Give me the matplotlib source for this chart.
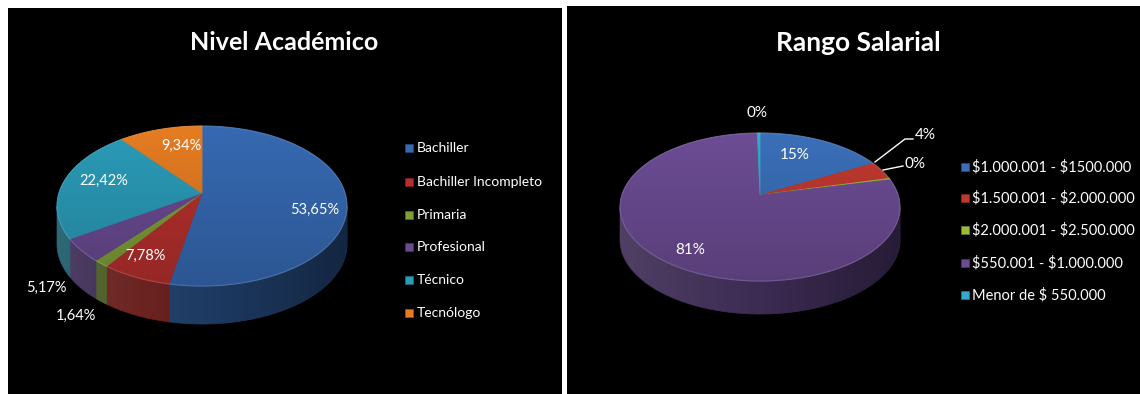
import numpy as np
import matplotlib
matplotlib.use("Agg")
import matplotlib.pyplot as plt
from matplotlib.patches import Polygon, Rectangle
from matplotlib.colors import to_rgb

plt.rcParams['font.family'] = ['Lato', 'DejaVu Sans']

# ---------------- data ----------------
acad_title = "Nivel Académico"
acad_cats = ["Bachiller", "Bachiller Incompleto", "Primaria", "Profesional", "Técnico", "Tecnólogo"]
acad_vals = [53.65, 7.78, 1.64, 5.17, 22.42, 9.34]
acad_colors = ["#3669B2", "#B5302D", "#7E9E38", "#6A4A92", "#2B9BB8", "#E57C22"]

sal_title = "Rango Salarial"
sal_cats = ["$1.000.001 - $1500.000", "$1.500.001 - $2.000.000", "$2.000.001 - $2.500.000",
            "$550.001 - $1.000.000", "Menor de $ 550.000"]
sal_vals = [15.0, 3.7, 0.3, 80.7, 0.3]
sal_colors = ["#3A6FB8", "#C0392F", "#9BBB3A", "#6C4C94", "#36AACB"]

acad_label_txt = [("%.2f%%" % v).replace(".", ",") for v in acad_vals]
sal_label_txt = ["%.0f%%" % v for v in sal_vals]

# ---------------- layout ----------------
W, H = 1140, 394
fig = plt.figure(figsize=(W / 100, H / 100), dpi=100, facecolor="white")
ax = fig.add_axes([0, 0, 1, 1])
ax.set_xlim(0, W)
ax.set_ylim(H, 0)
ax.axis("off")

ax.add_patch(Rectangle((8, 8), 554, 386, facecolor="black", edgecolor="none"))
ax.add_patch(Rectangle((567, 6), 573, 388, facecolor="black", edgecolor="none"))


def shade(c, f):
    r, g, b = to_rgb(c)
    return (min(r * f, 1), min(g * f, 1), min(b * f, 1))


def pie3d(vals, colors, cx, cy, rx, ry, depth, apx, apy, start=90.0):
    total = float(sum(vals))
    t = start
    spans = []
    for v in vals:
        a = 360.0 * v / total
        spans.append((t, t - a))
        t -= a

    def rim(tt, dy=0.0):
        r = np.radians(tt)
        return cx + rx * np.cos(r), cy - ry * np.sin(r) + dy

    # side walls: one polygon per wedge, restricted to the front half
    for (t0, t1), col in zip(spans, colors):
        ts = np.linspace(t0, t1, max(4, int(abs(t0 - t1) * 2)))
        tsn = ((ts + 180) % 360) - 180
        mask = tsn <= 0.0
        if mask.sum() < 2:
            continue
        seg = ts[mask]
        top = [rim(tt) for tt in seg]
        bot = [rim(tt, depth) for tt in seg[::-1]]
        sc = shade(col, 0.56)
        ax.add_patch(Polygon(top + bot, closed=True, facecolor=sc, edgecolor=sc, lw=0.6, zorder=1))

    # horizontal lighting gradient on the side band
    tb = np.linspace(180, 360, 181)
    band = Polygon([rim(tt) for tt in tb] + [rim(tt, depth) for tt in tb[::-1]],
                   closed=True, facecolor="none", edgecolor="none")
    ax.add_patch(band)
    xs = np.linspace(-1, 1, 200)
    rgba = np.zeros((1, 200, 4))
    rgba[..., 0:3] = np.where(xs < 0, 1.0, 0.0)[None, :, None]
    rgba[..., 3] = np.where(xs < 0, 0.10 * (-xs), 0.35 * xs)[None, :]
    im = ax.imshow(rgba, extent=(cx - rx, cx + rx, cy + ry + depth, cy - ry), aspect="auto",
                   interpolation="bilinear", zorder=1.5)
    im.set_clip_path(band)

    # top faces
    for (t0, t1), col in zip(spans, colors):
        n = max(4, int(abs(t0 - t1) * 2))
        ts = np.linspace(t0, t1, n)
        pts = [(apx, apy)] + [rim(tt) for tt in ts]
        ax.add_patch(Polygon(pts, closed=True, facecolor=col, edgecolor=col, lw=0.6, zorder=2))

    # subtle vertical gradient over the top face
    ts = np.linspace(0, 360, 361)
    ell = Polygon([rim(tt) for tt in ts], closed=True, facecolor="none", edgecolor="none")
    ax.add_patch(ell)
    grad = np.linspace(0, 1, 100).reshape(-1, 1)
    rgba = np.zeros((100, 1, 4))
    rgba[..., 3] = grad * 0.18
    im = ax.imshow(rgba, extent=(cx - rx, cx + rx, cy + ry, cy - ry), aspect="auto",
                   interpolation="bilinear", zorder=2.05)
    im.set_clip_path(ell)
    ax.add_patch(Polygon([rim(tt) for tt in ts], closed=True, facecolor="none",
                         edgecolor=(1, 1, 1, 0.12), lw=1.0, zorder=2.1))


pie3d(acad_vals, acad_colors, 202, 206, 145, 80, 38, 202, 193)
pie3d(sal_vals, sal_colors, 760, 207, 140, 74, 33, 760, 195)

# titles
ax.text(284, 42, acad_title, color="white", fontsize=18, fontweight="bold",
        ha="center", va="center", zorder=5)
ax.text(858, 43, sal_title, color="white", fontsize=19, fontweight="bold",
        ha="center", va="center", zorder=5)

# data labels (left)
acad_label_pos = [(315, 210), (145, 256), (76, 316), (46, 288), (104, 181), (181, 146)]
for txt, (x, y) in zip(acad_label_txt, acad_label_pos):
    ax.text(x, y, txt, color="white", fontsize=10.5, ha="center", va="center", zorder=5)

# data labels (right)
sal_label_pos = [(795, 155), (925, 135), (915, 164), (690, 250), (757, 113)]
for txt, (x, y) in zip(sal_label_txt, sal_label_pos):
    ax.text(x, y, txt, color="white", fontsize=11, ha="center", va="center", zorder=5)
ax.plot([875, 905, 913], [162, 139, 139], color="white", lw=1.0, zorder=5)
ax.plot([883, 903], [170, 166], color="white", lw=1.0, zorder=5)

# legends
acad_leg_y = [148, 182, 215, 247, 280, 313]
for cat, col, y in zip(acad_cats, acad_colors, acad_leg_y):
    ax.add_patch(Rectangle((405, y - 4), 8, 8, facecolor=col, edgecolor=shade(col, 0.7), lw=0.5, zorder=5))
    ax.text(417, y, cat, color="white", fontsize=10, ha="left", va="center", zorder=5)

sal_leg_y = [167, 198, 230, 263, 295]
for cat, col, y in zip(sal_cats, sal_colors, sal_leg_y):
    ax.add_patch(Rectangle((961, y - 4), 8, 8, facecolor=col, edgecolor=shade(col, 0.7), lw=0.5, zorder=5))
    ax.text(972, y, cat, color="white", fontsize=10.5, ha="left", va="center",
            zorder=5, parse_math=False)

fig.savefig("out.png", dpi=100, facecolor="white")
